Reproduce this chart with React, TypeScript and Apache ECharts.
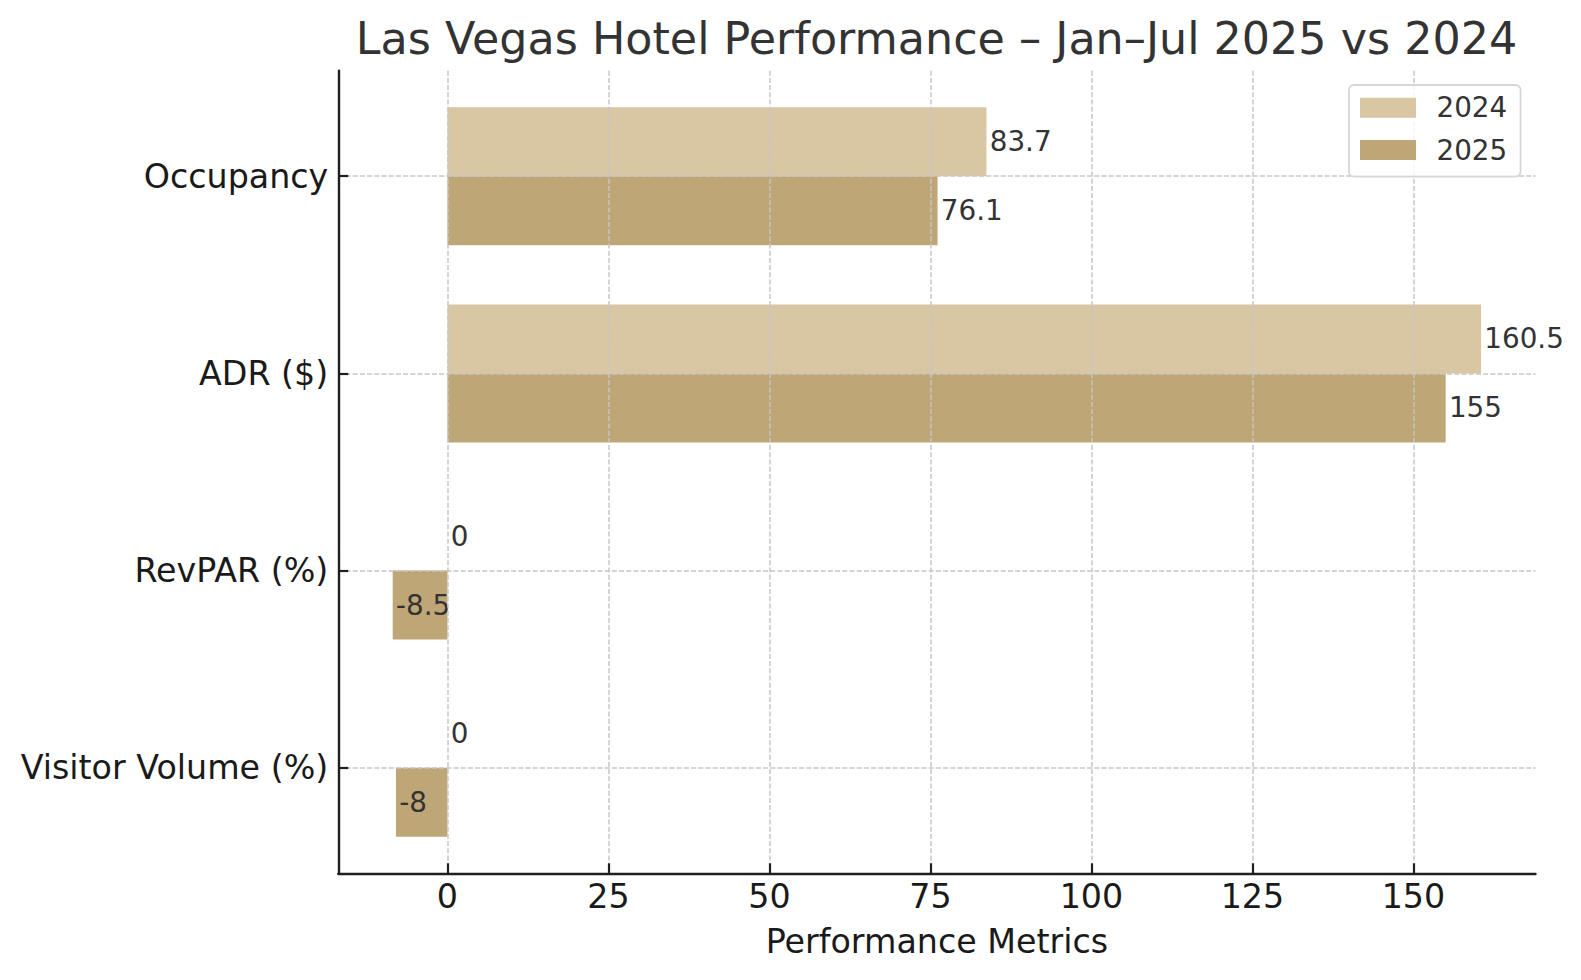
import React, { useEffect, useRef } from "react";
import * as echarts from "echarts";

const categories = ["Occupancy", "ADR ($)", "RevPAR (%)", "Visitor Volume (%)"];
const values2024 = [83.7, 160.5, 0, 0];
const values2025 = [76.1, 155, -8.5, -8];
const xTicks = [0, 25, 50, 75, 100, 125, 150];
const yTicks = [0, 1, 2, 3];
const seriesNames = ["2024", "2025"];
const seriesColors = ["#d9c6a3", "#bfa677"];
const titleText = "Las Vegas Hotel Performance \u2013 Jan\u2013Jul 2025 vs 2024";
const xAxisName = "Performance Metrics";

const FONT = "DejaVu Sans";
const BAR_H = 0.35;

function makeSeries(name: string, values: number[], color: string, upper: boolean) {
  return {
    type: "custom",
    name,
    data: values.map((v, i) => [v, i]),
    encode: { x: 0, y: 1 },
    itemStyle: { color },
    renderItem: (_params: any, api: any) => {
      const v = api.value(0);
      const c = api.value(1);
      const y0 = upper ? c - BAR_H : c;
      const y1 = upper ? c : c + BAR_H;
      const p0 = api.coord([0, y0]);
      const p1 = api.coord([v, y1]);
      const mid = api.coord([v + 0.5, (y0 + y1) / 2]);
      return {
        type: "group",
        children: [
          {
            type: "rect",
            shape: {
              x: Math.min(p0[0], p1[0]),
              y: Math.min(p0[1], p1[1]),
              width: Math.abs(p1[0] - p0[0]),
              height: Math.abs(p1[1] - p0[1]),
            },
            style: { fill: color },
          },
          {
            type: "text",
            x: mid[0],
            y: mid[1],
            style: {
              text: String(v),
              fill: "#333333",
              fontSize: 27.8,
              fontFamily: FONT,
              align: "left",
              verticalAlign: "middle",
            },
          },
        ],
      };
    },
  };
}

export default function App() {
  const ref = useRef<HTMLDivElement>(null);
  useEffect(() => {
    document.body.style.margin = "0";
    const chart = echarts.init(ref.current as HTMLDivElement, undefined, { renderer: "svg" });
    const gridLine = { show: true, lineStyle: { color: "#c6c6c6", width: 1.5, type: [5, 2.2] } };
    const axisColor = "#1f1f1f";
    chart.setOption({
      animation: false,
      backgroundColor: "#ffffff",
      textStyle: { fontFamily: FONT },
      title: {
        text: titleText,
        left: 936.5,
        textAlign: "center",
        top: 16.5,
        padding: 0,
        textStyle: { fontSize: 44.4, fontWeight: "normal", color: "#333333", fontFamily: FONT },
      },
      legend: {
        data: seriesNames,
        orient: "vertical",
        left: 1349,
        top: 85,
        icon: "rect",
        itemWidth: 56,
        itemHeight: 20,
        itemGap: 14.3,
        padding: [8.7, 13.3, 12.7, 11],
        backgroundColor: "rgba(255,255,255,0.8)",
        borderColor: "#d6d6d6",
        borderWidth: 1.8,
        borderRadius: 5,
        selectedMode: false,
        textStyle: {
          fontSize: 27.8,
          lineHeight: 28,
          color: "#333333",
          fontFamily: FONT,
          padding: [0, 0, 0, 15.5],
        },
      },
      grid: {
        left: 338.3,
        top: 70.7,
        width: 1197.2,
        height: 802.6,
        containLabel: false,
        outerBoundsMode: "none",
      },
      xAxis: {
        type: "value",
        min: -16.95,
        max: 168.95,
        z: 3,
        name: xAxisName,
        nameLocation: "middle",
        nameGap: 51.3,
        nameTextStyle: { fontSize: 33.3, color: "#1a1a1a", fontFamily: FONT },
        axisLine: { show: true, onZero: false, lineStyle: { color: axisColor, width: 2.4 } },
        axisTick: { show: true, inside: true, length: 10, customValues: xTicks, lineStyle: { color: axisColor, width: 2.2 } },
        axisLabel: { show: true, customValues: xTicks, margin: 7, fontSize: 33.3, color: "#1a1a1a", fontFamily: FONT },
        splitLine: gridLine,
      },
      yAxis: {
        type: "value",
        min: -0.535,
        max: 3.535,
        inverse: true,
        z: 3,
        axisLine: { show: true, onZero: false, lineStyle: { color: axisColor, width: 2.4 } },
        axisTick: { show: true, inside: true, length: 10, customValues: yTicks, lineStyle: { color: axisColor, width: 2.2 } },
        axisLabel: {
          show: true,
          customValues: yTicks,
          margin: 10,
          fontSize: 33.3,
          color: "#1a1a1a",
          fontFamily: FONT,
          formatter: (v: number) => categories[Math.round(v)] ?? "",
        },
        splitLine: gridLine,
      },
      series: [
        makeSeries(seriesNames[0], values2024, seriesColors[0], true),
        makeSeries(seriesNames[1], values2025, seriesColors[1], false),
      ],
    });
    return () => chart.dispose();
  }, []);
  return <div ref={ref} style={{ width: 1581, height: 980 }} />;
}
